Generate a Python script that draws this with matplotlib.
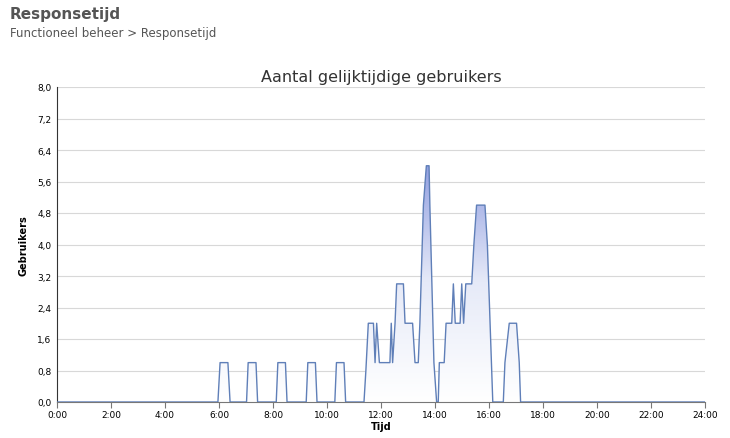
import matplotlib
matplotlib.use("Agg")
import matplotlib.pyplot as plt
import numpy as np
from matplotlib.colors import LinearSegmentedColormap
from matplotlib.patches import Polygon

# breakpoints (hours, users)
times = [0, 5.96, 6.04, 6.33, 6.41, 7.02, 7.08, 7.37, 7.43, 8.12, 8.18, 8.46, 8.52,
         9.23, 9.29, 9.57, 9.63, 10.29, 10.35, 10.63, 10.69,
         11.37, 11.44, 11.53, 11.72, 11.78, 11.84, 11.94, 12.33, 12.38, 12.43, 12.52, 12.58,
         12.83, 12.89, 13.17, 13.26, 13.38, 13.44, 13.57, 13.68, 13.78, 13.81, 13.96, 14.06,
         14.12, 14.16, 14.34, 14.41, 14.62, 14.68, 14.75, 14.93, 14.99, 15.06, 15.14, 15.36,
         15.44, 15.54, 15.85, 15.94, 16.14, 16.53, 16.59, 16.75, 17.02, 17.12, 17.17, 24]
users = [0, 0, 1, 1, 0, 0, 1, 1, 0, 0, 1, 1, 0,
         0, 1, 1, 0, 0, 1, 1, 0,
         0, 0.8, 2, 2, 1, 2, 1, 1, 2, 1, 2, 3,
         3, 2, 2, 1, 1, 2, 5, 6, 6, 5, 1, 0,
         0, 1, 1, 2, 2, 3, 2, 2, 3, 2, 3, 3,
         4, 5, 5, 4, 0, 0, 1, 2, 2, 1, 0, 0]
yticks = [0, 0.8, 1.6, 2.4, 3.2, 4.0, 4.8, 5.6, 6.4, 7.2, 8.0]
xticks = list(range(0, 25, 2))

fig = plt.figure(figsize=(7.3, 4.39), dpi=100)
fig.text(10/730, 1-15/439, "Responsetijd", fontsize=11, fontweight="bold", color="#555555", va="center")
fig.text(10/730, 1-33/439, "Functioneel beheer > Responsetijd", fontsize=8.5, color="#555555", va="center")
ax = fig.add_axes([57/730, 36/439, 648/730, 315/439])

cmap = LinearSegmentedColormap.from_list("g", ["#ffffff", "#e6eaf8", "#8f9de0"])
grad = np.linspace(0, 1, 256).reshape(-1, 1)
verts = list(zip(times, users)) + [(times[-1], 0), (times[0], 0)]
poly = Polygon(verts, closed=True, facecolor="none", edgecolor="none")
ax.add_patch(poly)
img = ax.imshow(grad, extent=[0, 24, 0, 6.1], origin="lower", aspect="auto", cmap=cmap, zorder=1)
img.set_clip_path(poly)
ax.plot(times, users, color="#5f7fb8", lw=1.0, zorder=3)
ax.set_xlim(0, 24)
ax.set_ylim(0, 8)

ax.set_yticks(yticks)
ax.set_yticklabels([f"{v:.1f}".replace(".", ",") for v in yticks], fontsize=6.5)
ax.set_xticks(xticks)
ax.set_xticklabels([f"{h}:00" for h in xticks], fontsize=6.5)
ax.grid(axis="y", color="#d8d8d8", lw=0.8)
ax.set_axisbelow(True)
for s in ["top", "right"]:
    ax.spines[s].set_visible(False)
ax.spines["left"].set_color("#333333")
ax.spines["bottom"].set_color("#777777")
ax.tick_params(axis="y", length=0, pad=4)
ax.tick_params(axis="x", length=4, color="#777777", pad=2)
ax.set_xlabel("Tijd", fontsize=7, fontweight="bold", labelpad=1)
ax.set_ylabel("Gebruikers", fontsize=7, fontweight="bold", labelpad=6)
ax.set_title("Aantal gelijktijdige gebruikers", fontsize=11.5, color="#333333", pad=4)
fig.savefig("out.png", dpi=100)
